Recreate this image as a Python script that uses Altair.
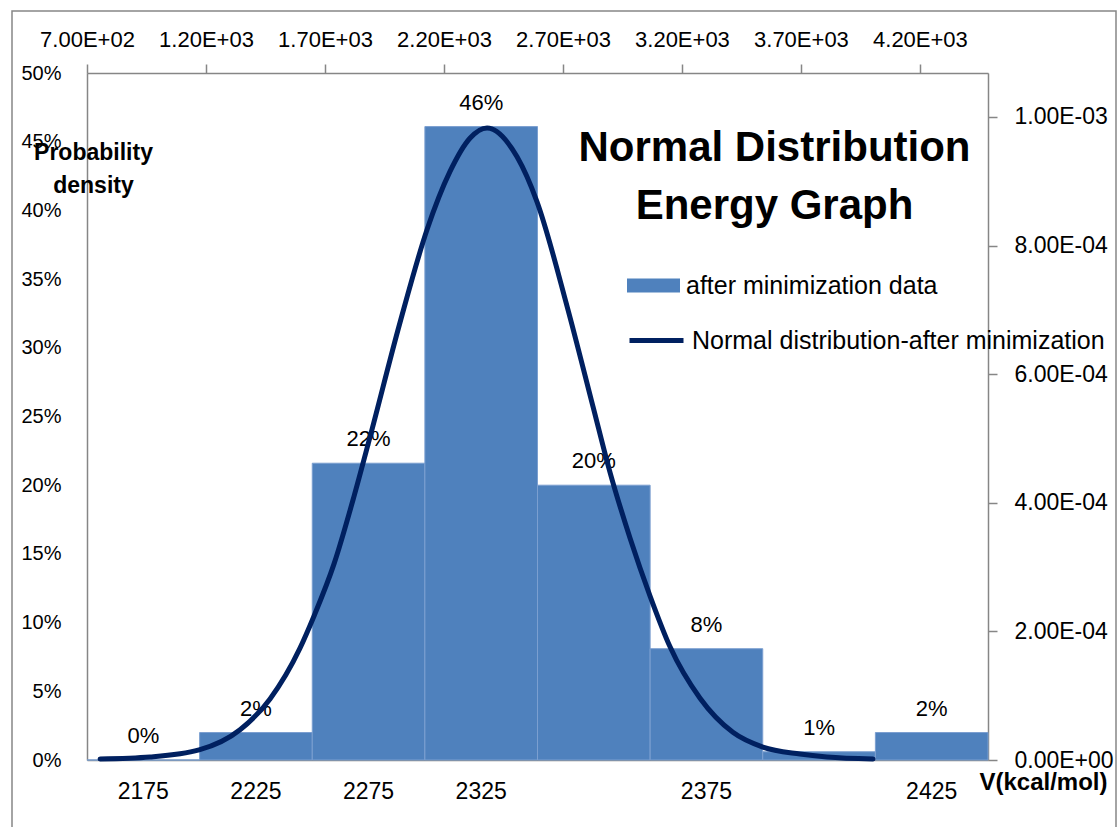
import altair as alt
import pandas as pd

# ---- data ----
bin_labels = ["2175", "2225", "2275", "2325", "", "2375", "", "2425"]
bin_share = [0.0, 0.02, 0.216, 0.461, 0.20, 0.081, 0.006, 0.02]

curve_v = [755, 965, 1171, 1343, 1469, 1595, 1654, 1738, 1822, 1889, 2015, 2129,
           2225, 2309, 2381, 2507, 2591, 2717, 2826, 2898, 2982, 3066, 3150, 3276,
           3414, 3540, 3696, 3809, 4003]
curve_pdf = [1.6e-6, 4.7e-6, 1.56e-5, 4.7e-5, 9.5e-5, 1.74e-4, 2.24e-4, 3.05e-4,
             4.1e-4, 5.02e-4, 6.8e-4, 8.25e-4, 9.15e-4, 9.67e-4, 9.83e-4,
             9.38e-4, 8.68e-4, 7.06e-4, 5.5e-4, 4.47e-4, 3.45e-4, 2.55e-4, 1.76e-4,
             9.6e-5, 4.3e-5, 2.0e-5, 9.3e-6, 4.7e-6, 1.6e-6]

left_ticks = [0, 0.05, 0.10, 0.15, 0.20, 0.25, 0.30, 0.35, 0.40, 0.45, 0.50]
top_ticks = [700, 1200, 1700, 2200, 2700, 3200, 3700, 4200]
right_ticks = [0, 0.0002, 0.0004, 0.0006, 0.0008, 0.001]

bar_series = "after minimization data"
line_series = "Normal distribution-after minimization"
title_lines = ["Normal Distribution", "Energy Graph"]

bars_df = pd.DataFrame({"idx": list(range(len(bin_share))), "share": bin_share,
                        "series": bar_series})
curve_df = pd.DataFrame({"v": curve_v, "pdf": curve_pdf, "series": line_series})

FONT = "Liberation Sans"
GRAY = "#868686"
sci_expr = "replace(replace(format(datum.value, '.2e'), 'e+', 'E+0'), 'e-', 'E-0')"
cat_expr = "[" + ",".join("'%s'" % s for s in bin_labels) + "][datum.value]"

x_bar = alt.X("idx:O", scale=alt.Scale(paddingInner=0, paddingOuter=0),
              axis=alt.Axis(orient="bottom", labelExpr=cat_expr, labelAngle=0,
                            ticks=False, labelPadding=20, labelFontSize=23,
                            domainColor=GRAY, domainWidth=1.5,
                            title="V(kcal/mol)", titleFontSize=24,
                            titleFontWeight="bold",
                            titleX=956, titleY=22, titleAlign="center",
                            titleBaseline="middle", titleAngle=0))
y_bar = alt.Y("share:Q", scale=alt.Scale(domain=[0, 0.5], nice=False),
              axis=alt.Axis(orient="left", values=left_ticks, format=".0%",
                            ticks=False, labelPadding=26, labelFontSize=20,
                            grid=False, domainColor=GRAY, domainWidth=1.5,
                            title=["Probability", "density"], titleFontSize=23,
                            titleFontWeight="bold", titleAngle=0, titleX=6,
                            titleY=68, titleAlign="center", titleBaseline="top",
                            titleLineHeight=33))

bars = alt.Chart(bars_df).mark_bar(color="#4F81BD", stroke="#7B9FD0",
                                   strokeWidth=1).encode(
    x=x_bar, y=y_bar,
    fill=alt.Fill("series:N",
                  scale=alt.Scale(domain=[bar_series], range=["#4F81BD"]),
                  legend=alt.Legend(title=None, orient="none", legendX=540,
                                    legendY=186, padding=0,
                                    symbolType="M-1,-0.26L1,-0.26L1,0.26L-1,0.26Z",
                                    symbolSize=2809, symbolStrokeWidth=0,
                                    labelFontSize=25, labelOffset=6,
                                    labelLimit=800, labelFont=FONT)))

labels = alt.Chart(bars_df).mark_text(baseline="bottom", dy=-12, fontSize=22,
                                      font=FONT, color="black").encode(
    x=alt.X("idx:O", scale=alt.Scale(paddingInner=0, paddingOuter=0), axis=None),
    y=alt.Y("share:Q", scale=alt.Scale(domain=[0, 0.5], nice=False), axis=None),
    text=alt.Text("share:Q", format=".0%"))

line = alt.Chart(curve_df).mark_line(strokeWidth=5, interpolate="monotone",
                                     strokeCap="round").encode(
    x=alt.X("v:Q", scale=alt.Scale(domain=[700, 4486], nice=False, zero=False),
            axis=alt.Axis(orient="top", values=top_ticks, labelExpr=sci_expr,
                          tickSize=9, tickColor=GRAY, tickWidth=1.5,
                          labelPadding=13, labelFontSize=22, grid=False,
                          labelOverlap=False, labelFlush=False,
                          domainColor=GRAY, domainWidth=1.5, title=None)),
    y=alt.Y("pdf:Q", scale=alt.Scale(domain=[0, 1.0684e-3], nice=False),
            axis=alt.Axis(orient="right", values=right_ticks, labelExpr=sci_expr,
                          tickSize=9, tickColor=GRAY, tickWidth=1.5,
                          labelPadding=17, labelFontSize=23, grid=False,
                          labelOverlap=False, labelFlush=False,
                          domainColor=GRAY, domainWidth=1.5, title=None)),
    stroke=alt.Stroke("series:N",
                      scale=alt.Scale(domain=[line_series], range=["#002060"]),
                      legend=alt.Legend(title=None, orient="none", legendX=540,
                                        legendY=238, padding=0,
                                        symbolType="stroke", symbolSize=2916,
                                        symbolStrokeWidth=5, labelFontSize=25,
                                        labelOffset=6, labelLimit=800,
                                        labelFont=FONT)))

frame = alt.Chart(pd.DataFrame({"k": [0]})).mark_rect(
    filled=False, stroke=GRAY, strokeWidth=1.5).encode(
    x=alt.value(-75), x2=alt.value(1029), y=alt.value(-62), y2=alt.value(790))

chart = alt.layer(frame, bars, labels, line).resolve_scale(
    x="independent", y="independent"
).properties(
    width=901, height=687,
    autosize=alt.AutoSizeParams(type="none"),
    padding={"left": 87, "top": 73, "right": 130, "bottom": 67},
    title=alt.TitleParams(text=title_lines, fontSize=42, fontWeight="bold",
                          font=FONT, anchor="middle", dx=237, dy=222,
                          baseline="top", lineHeight=58, color="black"),
).configure_view(stroke=None).configure_axis(
    labelFont=FONT, titleFont=FONT, labelColor="black", titleColor="black"
).configure(background="white")

chart.save("out.html", embed_options={"renderer": "svg", "actions": False})
